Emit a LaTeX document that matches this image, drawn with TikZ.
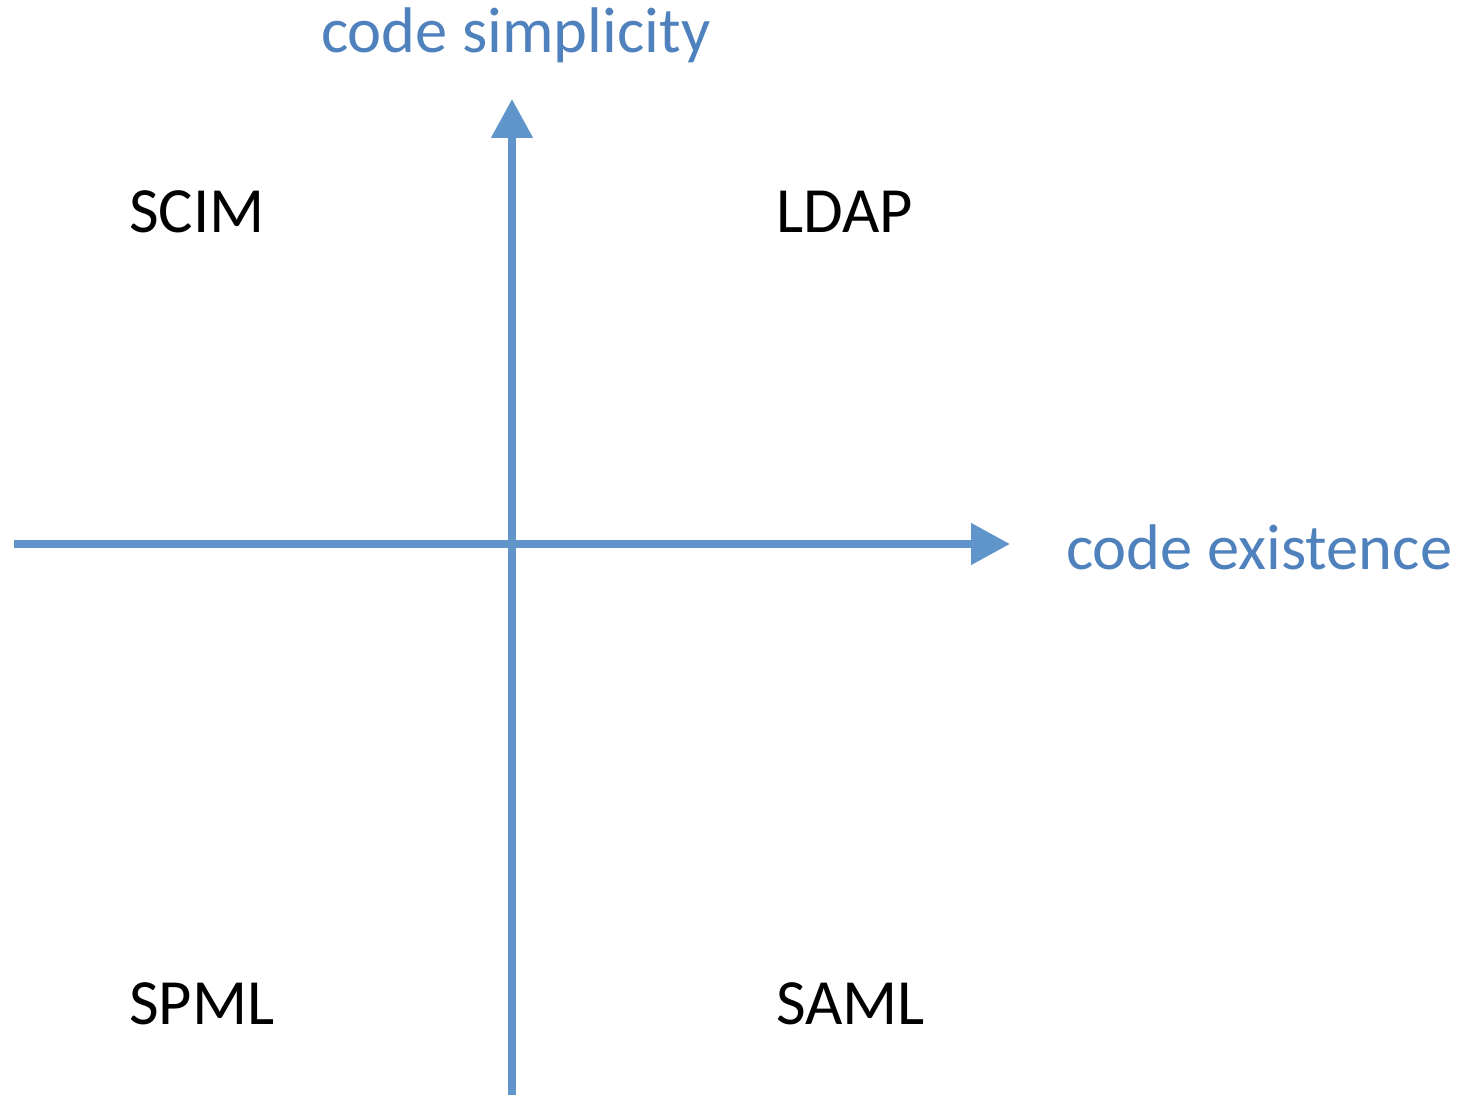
\documentclass[tikz,border=0pt]{standalone}
\usepackage{fontspec}
\setmainfont{Carlito}
\usetikzlibrary{arrows.meta}
\definecolor{axisblue}{RGB}{95,149,202}
\definecolor{labelblue}{RGB}{79,129,189}
\begin{document}
\begin{tikzpicture}[x=1pt,y=-1pt,
  axis/.style={draw=axisblue,line width=8pt,-{Triangle[width=40pt,length=39pt]}},
  quad/.style={anchor=base west,inner sep=0pt,font=\fontsize{64.5}{77}\selectfont,text=black},
  axlabel/.style={anchor=base west,inner sep=0pt,font=\fontsize{64.5}{77}\selectfont,text=labelblue}]
\useasboundingbox (0,0) rectangle (1476,1099);
\coordinate (xstart) at (14,544);
\coordinate (xend) at (1010,544);
\coordinate (ystart) at (512,1095);
\coordinate (yend) at (512,99);
\draw[axis] (xstart) -- (xend);
\draw[axis] (ystart) -- (yend);
\node[axlabel] (ylab) at (321,53) {code simplicity};
\node[axlabel] (xlab) at (1066,569) {code existence};
\node[quad] (scim) at (129,233) {SCIM};
\node[quad] (ldap) at (776,233) {LDAP};
\node[quad] (spml) at (129,1024) {SPML};
\node[quad] (saml) at (776,1024) {SAML};
\end{tikzpicture}
\end{document}
